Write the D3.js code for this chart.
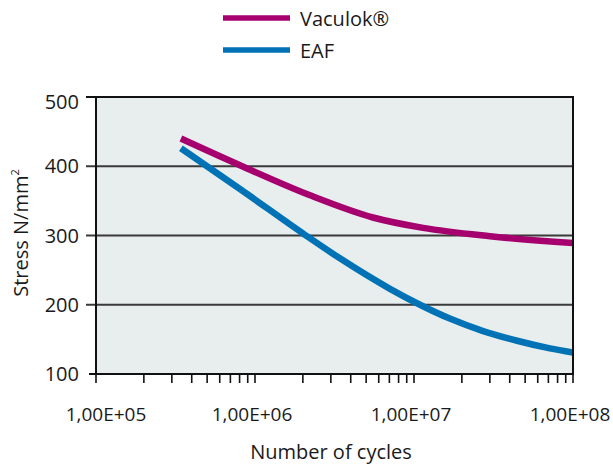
<!DOCTYPE html>
<html>
<head>
<meta charset="utf-8">
<script src="https://cdn.jsdelivr.net/npm/d3@7/dist/d3.min.js"></script>
<style>
  html, body { margin: 0; padding: 0; background: #fff; }
  svg { display: block; }
  text { font-family: "Open Sans", "Noto Sans", sans-serif; fill: #1a1a1a; }
</style>
</head>
<body>
<svg id="chart" width="613" height="464"></svg>
<script>
// ---- data ----
const seriesNames = ["Vaculok®", "EAF"];
const vaculokCycles = [3.42e5, 8.3e5, 2.22e6, 5.52e6, 1.14e7, 3.01e7, 1e8];
const vaculokStress = [440, 400, 358, 326, 311, 299, 289];
const eafCycles = [3.42e5, 8.17e5, 2.06e6, 3.42e6, 7.06e6, 1.09e7, 1.68e7, 2.72e7, 4.45e7, 7.16e7, 1e8];
const eafStress = [426, 366, 301, 267, 223, 200, 180, 162, 148, 137, 131];
const xMajorTicks = [1e5, 1e6, 1e7, 1e8];
const xTickLabels = ["1,00E+05", "1,00E+06", "1,00E+07", "1,00E+08"];
const yTicks = [100, 200, 300, 400, 500];
const xTitle = "Number of cycles";
const yTitle = "Stress N/mm";

// ---- layout ----
const colors = ["#a6006f", "#0072b5"];
const svg = d3.select("#chart");
const L = 96, R = 573, T = 97, B = 374;

const x = d3.scaleLog().domain([1e5, 1e8]).range([L, R]);
const y = d3.scaleLinear().domain([100, 500]).range([B, T]);

// plot background
svg.append("rect").attr("x", L).attr("y", T).attr("width", R - L).attr("height", B - T)
  .attr("fill", "#e8eded");

// gridlines + y ticks
svg.append("g").selectAll("line").data(yTicks.filter(d => d > 100)).join("line")
  .attr("x1", L - 10).attr("x2", R)
  .attr("y1", d => y(d)).attr("y2", d => y(d))
  .attr("stroke", d => d === 500 ? "#111" : "#3a3a3a")
  .attr("stroke-width", 2);

// y tick labels
svg.append("g").selectAll("text").data(yTicks).join("text")
  .attr("x", 79)
  .attr("y", d => y(d) + (d === 500 ? 5 : 0))
  .attr("dy", "0.36em")
  .attr("text-anchor", "end")
  .attr("font-size", 20)
  .text(d => d);

// series lines
svg.append("clipPath").attr("id", "plotclip").append("rect")
  .attr("x", L).attr("y", T).attr("width", R - L).attr("height", B - T);

const seriesData = [
  d3.zip(vaculokCycles, vaculokStress),
  d3.zip(eafCycles, eafStress)
];
const line = d3.line().x(d => x(d[0])).y(d => y(d[1])).curve(d3.curveMonotoneX);
svg.append("g").attr("clip-path", "url(#plotclip)")
  .selectAll("path").data(seriesData).join("path")
  .attr("d", line)
  .attr("fill", "none")
  .attr("stroke", (d, i) => colors[i])
  .attr("stroke-width", 6.5);

// frame: left, right, bottom
svg.append("line").attr("x1", L).attr("x2", L).attr("y1", T - 1).attr("y2", B + 1)
  .attr("stroke", "#111").attr("stroke-width", 2);
svg.append("line").attr("x1", R).attr("x2", R).attr("y1", T - 1).attr("y2", B + 1)
  .attr("stroke", "#111").attr("stroke-width", 2);
svg.append("line").attr("x1", L - 7).attr("x2", R + 1).attr("y1", B).attr("y2", B)
  .attr("stroke", "#111").attr("stroke-width", 2);

// x ticks (major + minor)
const allXTicks = [];
for (let e = 5; e <= 8; e++) {
  for (let m = 1; m <= 9; m++) {
    const v = m * Math.pow(10, e);
    if (v <= 1e8) allXTicks.push(v);
  }
}
svg.append("g").selectAll("line").data(allXTicks).join("line")
  .attr("x1", d => x(d)).attr("x2", d => x(d))
  .attr("y1", B).attr("y2", B + 9)
  .attr("stroke", "#111").attr("stroke-width", 1.6);

svg.append("g").selectAll("text").data(xMajorTicks).join("text")
  .attr("x", (d, i) => x(d) + (i === 0 ? 10 : -3))
  .attr("y", 421)
  .attr("text-anchor", "middle")
  .attr("font-size", 19)
  .text((d, i) => xTickLabels[i]);

// axis titles
svg.append("text").attr("x", 331).attr("y", 459)
  .attr("text-anchor", "middle").attr("font-size", 20).text(xTitle);

const yt = svg.append("text")
  .attr("transform", "translate(28,233) rotate(-90)")
  .attr("text-anchor", "middle").attr("font-size", 20);
yt.append("tspan").text(yTitle);
yt.append("tspan").attr("font-size", 11).attr("dy", -9).text("2");

// legend
const legend = svg.append("g");
const legY = [18, 50];
legend.selectAll("line").data(seriesNames).join("line")
  .attr("x1", 223).attr("x2", 290)
  .attr("y1", (d, i) => legY[i]).attr("y2", (d, i) => legY[i])
  .attr("stroke", (d, i) => colors[i]).attr("stroke-width", 5.5);
legend.selectAll("text").data(seriesNames).join("text")
  .attr("x", 300).attr("y", (d, i) => legY[i] + 8)
  .attr("font-size", 20)
  .text(d => d);
</script>
</body>
</html>
